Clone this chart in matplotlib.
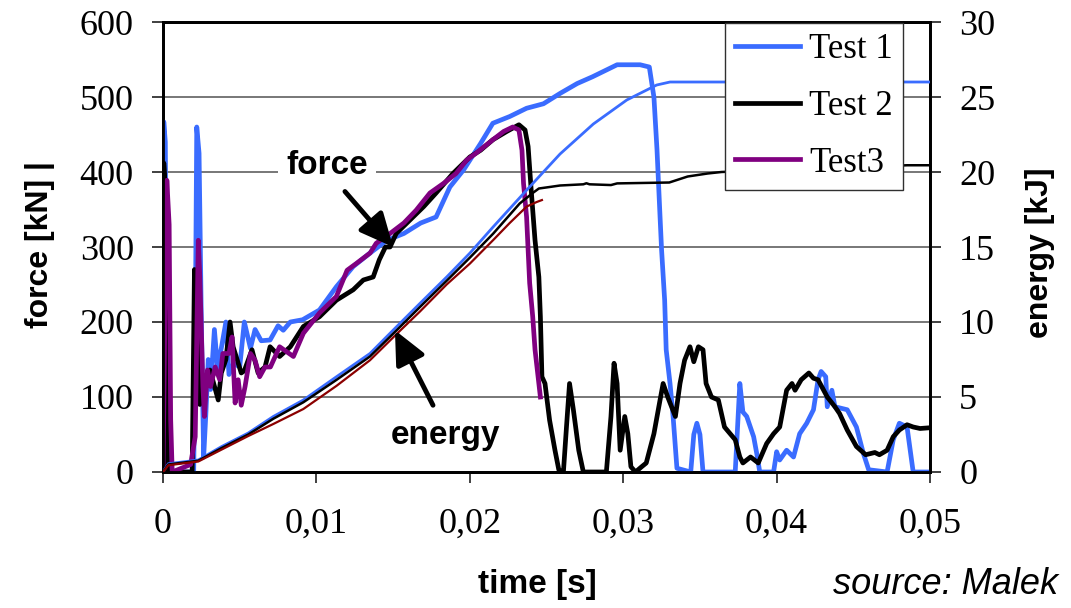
import numpy as np
import matplotlib
matplotlib.use("Agg")
import matplotlib.pyplot as plt
from matplotlib.ticker import FuncFormatter
from matplotlib.lines import Line2D

# ---- data (time in ms, force in kN, energy in kJ) ----
t1_force_ms = [0, 0.05, 0.15, 0.3, 2.0, 2.1, 2.2, 2.35, 2.5, 2.65, 2.8, 2.95, 3.1, 3.35, 3.55,
               3.8, 4.1, 4.3, 4.6, 5.0, 5.3, 5.7, 6.0, 6.4, 6.98, 7.5, 7.84, 8.3, 9.1, 10.2,
               11.3, 12.4, 13.5, 14.6, 15.7, 16.8, 17.8, 18.7, 19.6, 20.7, 21.5, 22.6, 23.7,
               24.8, 25.9, 27.0, 28.0, 28.9, 29.6, 31.1, 31.7, 32.0, 32.2, 32.4, 32.5, 32.7,
               32.8, 33.05, 33.25, 33.5, 34.4, 34.6, 34.8, 35.0, 35.2, 37.3, 37.6, 37.8, 38.05,
               38.5, 38.7, 38.9, 39.8, 40.0, 40.2, 40.65, 41.1, 41.5, 41.96, 42.4, 42.7, 42.9,
               43.2, 43.3, 43.6, 43.8, 44.6, 45.2, 45.65, 46.0, 47.2, 47.6, 48.0, 48.5, 48.9, 50.0]
t1_force_kn = [0, 467, 440, 0, 0, 180, 460, 425, 200, 20, 80, 150, 110, 190, 140,
               165, 200, 130, 145, 140, 200, 165, 190, 175, 176, 195, 189, 200, 203, 216,
               247, 274, 292, 309, 318, 332, 340, 380, 403, 438, 465, 474, 485,
               491, 505, 518, 527, 536, 543, 543, 540, 500, 430, 340, 296, 229,
               163, 118, 74, 5, 0, 50, 65, 50, 0, 0, 118, 80, 74,
               47, 25, 0, 0, 27, 16, 29, 20, 51, 65, 83, 123, 134,
               127, 87, 109, 87, 83, 60, 25, 3, 0, 43, 65, 60, 0, 0]

t2_force_ms = [0, 0.05, 0.15, 0.3, 1.9, 2.05, 2.2, 2.4, 2.6, 3.06, 3.6, 3.8, 4.1, 4.37, 4.57,
               5.1, 5.3, 5.8, 6.2, 6.65, 6.98, 7.6, 8.3, 9.15, 10.2, 11.3, 12.4, 13.06, 13.7,
               14.1, 14.5, 14.8, 15.2, 16.1, 17.0, 17.8, 18.9, 20.0, 20.7, 21.5, 22.4, 23.2,
               23.6, 23.8, 24.0, 24.25, 24.5, 24.6, 24.7, 24.9, 25.2, 25.55, 25.8, 26.1, 26.3,
               26.5, 26.75, 27.1, 27.4, 28.9, 29.2, 29.4, 29.6, 29.8, 30.1, 30.3, 30.5, 30.8,
               31.2, 31.5, 32.0, 32.4, 32.6, 32.9, 33.4, 33.7, 34.0, 34.35, 34.6, 34.9, 35.2,
               35.4, 35.75, 36.2, 36.6, 37.3, 37.6, 37.8, 38.3, 38.8, 39.35, 39.8, 40.2, 40.65,
               41.0, 41.2, 41.6, 42.1, 42.4, 42.7, 43.3, 43.8, 44.1, 44.6, 45.2, 45.8, 46.4,
               46.7, 47.2, 47.6, 48.0, 48.5, 48.9, 49.35, 50.0]
t2_force_kn = [0, 412, 380, 0, 0, 270, 200, 90, 110, 136, 96, 132, 150, 200, 167,
               132, 135, 163, 132, 140, 167, 154, 167, 194, 207, 229, 243, 256, 260,
               283, 300, 300, 318, 336, 354, 372, 398, 420, 429, 443, 454, 463,
               456, 434, 376, 309, 260, 207, 127, 118, 69, 29, 3, 0, 60,
               118, 83, 29, 0, 0, 74, 145, 118, 29, 74, 51, 7, 0,
               7, 12, 51, 96, 118, 100, 74, 118, 149, 167, 147, 167, 163,
               118, 100, 96, 60, 43, 20, 12, 20, 12, 38, 51, 60, 109,
               118, 109, 123, 132, 125, 123, 100, 87, 78, 56, 34, 23, 26,
               23, 29, 47, 56, 63, 60, 58, 59]

t3_force_ms = [0, 0.15, 0.25, 0.4, 0.5, 0.6, 1.2, 1.8, 2.1, 2.3, 2.4, 2.6, 2.7, 2.9, 3.1,
               3.4, 3.7, 3.9, 4.3, 4.5, 4.7, 4.9, 5.1, 5.35, 5.7, 6.0, 6.3, 6.65, 7.0, 7.6,
               8.5, 9.15, 10.2, 11.3, 12.0, 12.6, 13.5, 13.9, 14.8, 15.7, 16.5, 17.4, 18.3,
               19.1, 19.8, 20.4, 21.5, 22.2, 22.8, 23.2, 23.4, 23.5, 23.7, 23.8, 23.9, 24.1,
               24.25, 24.5, 24.6]
t3_force_kn = [0, 250, 389, 330, 70, 0, 5, 10, 47, 309, 260, 114, 74, 136, 114,
               140, 123, 158, 158, 180, 92, 123, 89, 114, 158, 149, 127, 140, 140, 167,
               154, 185, 212, 234, 269, 278, 292, 305, 318, 332, 349, 372, 385,
               398, 416, 425, 443, 454, 460, 456, 429, 385, 340, 296, 252, 207,
               163, 118, 100]

t1_energy_ms = [0, 0.35, 2.3, 3.83, 5.56, 7.19, 9.15, 11.32, 13.49, 15.23, 16.75, 18.49,
                20.01, 21.53, 23.71, 25.88, 28.05, 30.23, 32.18, 33.05, 50.0]
t1_energy_kj = [0, 0.55, 0.8, 1.7, 2.6, 3.7, 4.8, 6.36, 7.9, 9.69, 11.24, 13.0,
                14.6, 16.35, 18.8, 21.2, 23.2, 24.8, 25.8, 26.0, 26.0]

t2_energy_ms = [0, 0.35, 2.3, 3.83, 5.56, 7.19, 9.15, 11.32, 13.49, 15.23, 16.75, 18.49,
                20.01, 21.53, 23.25, 24.1, 24.5, 25.2, 25.88, 27.4, 27.6, 27.8, 29.2, 29.6,
                33.0, 34.2, 35.5, 36.4, 40.0, 45.0, 48.5, 50.0]
t2_energy_kj = [0, 0.5, 0.75, 1.6, 2.5, 3.55, 4.65, 6.15, 7.7, 9.45, 11.0, 12.75,
                14.3, 15.9, 17.9, 18.6, 18.9, 19.0, 19.1, 19.18, 19.25, 19.18, 19.13, 19.24,
                19.3, 19.7, 19.9, 20.0, 20.15, 20.3, 20.45, 20.45]

t3_energy_ms = [0, 0.35, 2.3, 3.83, 5.56, 7.19, 9.15, 11.32, 13.49, 15.23, 16.75, 18.49,
                20.01, 21.53, 22.6, 23.71, 24.36, 24.7]
t3_energy_kj = [0, 0.45, 0.7, 1.5, 2.4, 3.2, 4.2, 5.75, 7.45, 9.2, 10.7, 12.5,
                13.9, 15.47, 16.6, 17.7, 18.0, 18.13]

legend_labels = ["Test 1", "Test 2", "Test3"]
x_ticks = [0, 0.01, 0.02, 0.03, 0.04, 0.05]
force_ticks = [0, 100, 200, 300, 400, 500, 600]
energy_ticks = [0, 5, 10, 15, 20, 25, 30]

BLUE = "#3a6cff"
BLACK = "#000000"
PURPLE = "#800080"
DARKRED = "#8b0000"

serif = "Liberation Serif"
sans = "Liberation Sans"


def ms(a):
    return np.asarray(a) / 1000.0


fig = plt.figure(figsize=(10.71, 6.08), dpi=100)
ax = fig.add_axes([0.1522, 0.2237, 0.7162, 0.7401])
ax2 = ax.twinx()

# force curves (left axis)
ax.plot(ms(t1_force_ms), t1_force_kn, color=BLUE, lw=3.4, solid_joinstyle="round", zorder=3)
ax.plot(ms(t2_force_ms), t2_force_kn, color=BLACK, lw=3.4, solid_joinstyle="round", zorder=4)
ax.plot(ms(t3_force_ms), t3_force_kn, color=PURPLE, lw=3.4, solid_joinstyle="round", zorder=5)

# energy curves (right axis)
ax2.plot(ms(t1_energy_ms), t1_energy_kj, color=BLUE, lw=2.0, zorder=3)
ax2.plot(ms(t2_energy_ms), t2_energy_kj, color=BLACK, lw=1.8, zorder=4)
ax2.plot(ms(t3_energy_ms), t3_energy_kj, color=DARKRED, lw=1.6, zorder=5)

ax.set_xlim(0, 0.05)
ax.set_ylim(0, 600)
ax2.set_ylim(0, 30)
ax.set_xticks(x_ticks)
ax.set_yticks(force_ticks)
ax2.set_yticks(energy_ticks)
ax.xaxis.set_major_formatter(
    FuncFormatter(lambda v, p: "0" if abs(v) < 1e-12 else f"{v:.2f}".replace(".", ",")))

ax.yaxis.grid(True, color="#606060", lw=1.2)
ax.set_axisbelow(True)

for a in (ax, ax2):
    for s in a.spines.values():
        s.set_linewidth(2.0)
        s.set_color("black")
    a.tick_params(direction="out", length=8, width=1.4, color="#404040")
    for lab in a.get_xticklabels() + a.get_yticklabels():
        lab.set_fontfamily(serif)
        lab.set_fontsize(26)
ax.tick_params(axis="x", pad=18)
ax.tick_params(axis="y", pad=13)
ax2.tick_params(axis="y", pad=13)

# axis titles
fig.text(0.0373, 0.597, "force [kN] |", fontfamily=sans, fontweight="bold", fontsize=23,
         rotation=90, ha="center", va="center")
fig.text(0.971, 0.584, "energy [kJ]", fontfamily=sans, fontweight="bold", fontsize=23,
         rotation=90, ha="center", va="center")
fig.text(0.502, 0.038, "time [s]", fontfamily=sans, fontweight="bold", fontsize=24,
         ha="center", va="center")
fig.text(0.988, 0.038, "source: Malek", fontfamily=sans, style="italic", fontsize=26,
         ha="right", va="center")

# callouts
ax2.text(0.0107, 409, "force", transform=ax.transData, fontfamily=sans, fontweight="bold",
         fontsize=24, ha="center", va="center", zorder=10,
         bbox=dict(fc="white", ec="none", pad=6))
ax2.text(0.0184, 49, "energy", transform=ax.transData, fontfamily=sans, fontweight="bold",
         fontsize=24, ha="center", va="center", zorder=10)
arrow = dict(arrowstyle="-|>,head_length=0.75,head_width=0.35", lw=3.5, color="black",
             mutation_scale=27, shrinkA=0, shrinkB=0)
ax2.annotate("", xy=(0.0150, 300), xytext=(0.01186, 374), xycoords=ax.transData,
             textcoords=ax.transData, arrowprops=arrow, zorder=10)
ax2.annotate("", xy=(0.01512, 189), xytext=(0.0176, 89), xycoords=ax.transData,
             textcoords=ax.transData, arrowprops=arrow, zorder=10)

# legend
handles = [Line2D([], [], color=c, lw=3.4) for c in (BLUE, BLACK, PURPLE)]
leg = ax2.legend(handles, legend_labels, loc="upper right", bbox_to_anchor=(0.965, 0.998),
                 prop={"family": serif, "size": 25}, frameon=True, fancybox=False,
                 edgecolor="#303030", framealpha=1.0, borderpad=0.3, labelspacing=0.68,
                 handlelength=1.87, handletextpad=0.25, borderaxespad=0.0)
leg.get_frame().set_linewidth(1.0)
leg.set_zorder(20)

fig.savefig("out.png", dpi=100, facecolor="white")
